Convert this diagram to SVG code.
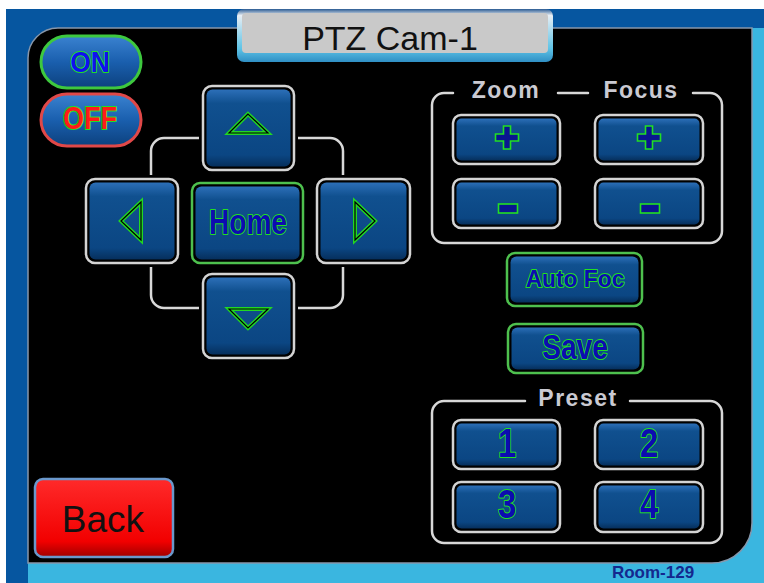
<svg xmlns="http://www.w3.org/2000/svg" width="764" height="583" viewBox="0 0 764 583">
  <defs>
    <linearGradient id="face" x1="0" y1="0" x2="0" y2="1">
      <stop offset="0" stop-color="#2c6fb8"/>
      <stop offset="0.18" stop-color="#10508f"/>
      <stop offset="0.85" stop-color="#0b4683"/>
      <stop offset="1" stop-color="#062f5c"/>
    </linearGradient>
    <linearGradient id="pill" x1="0" y1="0" x2="0" y2="1">
      <stop offset="0" stop-color="#3a82d0"/>
      <stop offset="0.5" stop-color="#1a5fae"/>
      <stop offset="1" stop-color="#0c417e"/>
    </linearGradient>
    <linearGradient id="red" x1="0" y1="0" x2="0" y2="1">
      <stop offset="0" stop-color="#ff2a2a"/>
      <stop offset="0.8" stop-color="#f20000"/>
      <stop offset="1" stop-color="#a00000"/>
    </linearGradient>
    <linearGradient id="title" x1="0" y1="0" x2="0" y2="1">
      <stop offset="0" stop-color="#2a5a92"/>
      <stop offset="0.12" stop-color="#e8eef4"/>
      <stop offset="0.75" stop-color="#5ec3e6"/>
      <stop offset="1" stop-color="#2f8fc4"/>
    </linearGradient>
    <style>
      .rim { fill: #000; stroke: #d4d4d4; stroke-width: 2.5; }
      .face { fill: url(#face); }
      .frame { fill: none; stroke: #d8d8d8; stroke-width: 2.5; stroke-linecap: round; }
      .glyph { fill: #0c0cb0; stroke: #22e022; stroke-width: 2; paint-order: stroke fill; stroke-linejoin: round; font-family: "Liberation Sans", Arial, sans-serif; font-weight: bold; text-anchor: middle; }
      .sym { fill: #0a1690; stroke: #22e022; stroke-width: 1.6; stroke-linejoin: miter; }
      .arrow { fill: none; stroke: #22d822; stroke-width: 4; stroke-linejoin: miter; }
      .arrow-in { fill: none; stroke: #000; stroke-width: 1.2; stroke-linejoin: miter; }
      .label { fill: #cacad2; font-family: "Liberation Sans", Arial, sans-serif; font-weight: bold; font-size: 23px; letter-spacing: 1.5px; text-anchor: middle; }
    </style>
  </defs>

  <!-- screen background -->
  <rect x="0" y="0" width="764" height="583" fill="#ffffff"/>
  <rect x="6" y="9" width="758" height="574" fill="#0656a0"/>
  <rect x="400" y="28" width="364" height="555" fill="#3ab6e0"/>
  <rect x="28" y="400" width="736" height="183" fill="#3ab6e0"/>
  <path d="M58,28 H752 V523 A40,40 0 0 1 712,563 H28 V58 A30,30 0 0 1 58,28 Z" fill="#000" stroke="#8796aa" stroke-width="1.5"/>

  <!-- title plate -->
  <g id="title-plate">
    <rect x="237" y="9" width="316" height="53" rx="7" fill="url(#title)"/>
    <rect x="242" y="13" width="306" height="40" rx="4" fill="#c9c9c9"/>
    <text x="390" y="50" font-family="Liberation Sans, Arial, sans-serif" font-size="34" text-anchor="middle" fill="#111">PTZ Cam-1</text>
  </g>

  <!-- power buttons -->
  <g id="btn-on">
    <rect x="41" y="36" width="100" height="52" rx="26" fill="url(#pill)" stroke="#3ec83e" stroke-width="3"/>
    <text class="glyph" transform="translate(90,72) scale(0.88,1)" x="0" y="0" font-size="30" style="fill:#1010f0">ON</text>
  </g>
  <g id="btn-off">
    <rect x="41" y="94" width="100" height="52" rx="26" fill="url(#pill)" stroke="#e04848" stroke-width="3"/>
    <text class="glyph" transform="translate(90,129) scale(0.87,1)" x="0" y="0" font-size="31" style="fill:#ff1a1a">OFF</text>
  </g>

  <!-- direction pad -->
  <g id="pad-frame">
    <rect class="frame" x="151" y="138" width="192" height="170" rx="13"/>
  </g>
  <g id="btn-up">
    <rect x="199" y="82" width="99" height="92" fill="#000"/>
    <rect class="rim" x="203" y="86" width="91" height="84" rx="9"/>
    <rect class="face" x="206.5" y="89.5" width="84" height="77" rx="6"/>
    <path class="arrow" d="M248,114 L229,133 L268,133 Z"/>
    <path class="arrow-in" d="M248,114 L229,133 L268,133 Z"/>
  </g>
  <g id="btn-left">
    <rect x="82" y="175" width="100" height="92" fill="#000"/>
    <rect class="rim" x="86" y="179" width="92" height="84" rx="9"/>
    <rect class="face" x="89.5" y="182.5" width="85" height="77" rx="6"/>
    <path class="arrow" d="M121,221 L141,202 L141,240 Z"/>
    <path class="arrow-in" d="M121,221 L141,202 L141,240 Z"/>
  </g>
  <g id="btn-home">
    <rect x="192" y="183" width="111" height="80" rx="8" fill="#000" stroke="#4ec04e" stroke-width="2.5"/>
    <rect class="face" x="195.5" y="186.5" width="104" height="73" rx="6"/>
    <text class="glyph" transform="translate(248,234) scale(0.78,1)" x="0" y="0" font-size="36">Home</text>
  </g>
  <g id="btn-right">
    <rect x="313" y="175" width="101" height="92" fill="#000"/>
    <rect class="rim" x="317" y="179" width="93" height="84" rx="9"/>
    <rect class="face" x="320.5" y="182.5" width="86" height="77" rx="6"/>
    <path class="arrow" d="M375,221 L355,202 L355,240 Z"/>
    <path class="arrow-in" d="M375,221 L355,202 L355,240 Z"/>
  </g>
  <g id="btn-down">
    <rect x="199" y="270" width="99" height="92" fill="#000"/>
    <rect class="rim" x="203" y="274" width="91" height="84" rx="9"/>
    <rect class="face" x="206.5" y="277.5" width="84" height="77" rx="6"/>
    <path class="arrow" d="M229,309 L268,309 L248,328 Z"/>
    <path class="arrow-in" d="M229,309 L268,309 L248,328 Z"/>
  </g>

  <!-- zoom / focus group -->
  <g id="zoom-focus-frame">
    <path class="frame" d="M453,93 H444 A12,12 0 0 0 432,105 V231 A12,12 0 0 0 444,243 H710 A12,12 0 0 0 722,231 V105 A12,12 0 0 0 710,93 H693"/>
    <path class="frame" d="M558,93 H588"/>
    <text class="label" x="506" y="98">Zoom</text>
    <text class="label" x="641" y="98">Focus</text>
  </g>
  <g id="btn-zoom-in">
    <rect class="rim" x="453" y="115" width="107" height="49" rx="8"/>
    <rect class="face" x="456.5" y="118.5" width="100" height="42" rx="5"/>
    <path class="sym" d="M503.5,126 h7 v8 h8 v7 h-8 v8 h-7 v-8 h-8 v-7 h8 z"/>
  </g>
  <g id="btn-zoom-out">
    <rect class="rim" x="453" y="179" width="107" height="49" rx="8"/>
    <rect class="face" x="456.5" y="182.5" width="100" height="42" rx="5"/>
    <rect class="sym" x="498.5" y="204" width="19" height="9"/>
  </g>
  <g id="btn-focus-in">
    <rect class="rim" x="595" y="115" width="108" height="49" rx="8"/>
    <rect class="face" x="598.5" y="118.5" width="101" height="42" rx="5"/>
    <path class="sym" d="M645.5,126 h7 v8 h8 v7 h-8 v8 h-7 v-8 h-8 v-7 h8 z"/>
  </g>
  <g id="btn-focus-out">
    <rect class="rim" x="595" y="179" width="108" height="49" rx="8"/>
    <rect class="face" x="598.5" y="182.5" width="101" height="42" rx="5"/>
    <rect class="sym" x="640.5" y="204" width="19" height="9"/>
  </g>

  <!-- auto focus and save -->
  <g id="btn-auto-focus">
    <rect x="507" y="253" width="135" height="53" rx="8" fill="#000" stroke="#4ec04e" stroke-width="2.5"/>
    <rect class="face" x="510.5" y="256.5" width="128" height="46" rx="6"/>
    <text class="glyph" transform="translate(575,287) scale(0.95,1)" x="0" y="0" font-size="24">Auto Foc</text>
  </g>
  <g id="btn-save">
    <rect x="508" y="324" width="135" height="49" rx="8" fill="#000" stroke="#4ec04e" stroke-width="2.5"/>
    <rect class="face" x="511.5" y="327.5" width="128" height="42" rx="6"/>
    <text class="glyph" transform="translate(575,359) scale(0.78,1)" x="0" y="0" font-size="36">Save</text>
  </g>

  <!-- preset group -->
  <g id="preset-frame">
    <path class="frame" d="M525,401 H444 A12,12 0 0 0 432,413 V531 A12,12 0 0 0 444,543 H710 A12,12 0 0 0 722,531 V413 A12,12 0 0 0 710,401 H630"/>
    <text class="label" x="578" y="406">Preset</text>
  </g>
  <g id="btn-preset-1">
    <rect class="rim" x="453" y="420" width="107" height="49" rx="8"/>
    <rect class="face" x="456.5" y="423.5" width="100" height="42" rx="5"/>
    <text class="glyph" transform="translate(507,457) scale(0.8,1)" x="0" y="0" font-size="41">1</text>
  </g>
  <g id="btn-preset-2">
    <rect class="rim" x="595" y="420" width="108" height="49" rx="8"/>
    <rect class="face" x="598.5" y="423.5" width="101" height="42" rx="5"/>
    <text class="glyph" transform="translate(649,457) scale(0.8,1)" x="0" y="0" font-size="41">2</text>
  </g>
  <g id="btn-preset-3">
    <rect class="rim" x="453" y="482" width="107" height="50" rx="8"/>
    <rect class="face" x="456.5" y="485.5" width="100" height="43" rx="5"/>
    <text class="glyph" transform="translate(507,518) scale(0.8,1)" x="0" y="0" font-size="41">3</text>
  </g>
  <g id="btn-preset-4">
    <rect class="rim" x="595" y="482" width="108" height="50" rx="8"/>
    <rect class="face" x="598.5" y="485.5" width="101" height="43" rx="5"/>
    <text class="glyph" transform="translate(649,518) scale(0.8,1)" x="0" y="0" font-size="41">4</text>
  </g>

  <!-- back button -->
  <g id="btn-back">
    <rect x="35" y="479" width="138" height="78" rx="8" fill="url(#red)" stroke="#6a98cc" stroke-width="2.5"/>
    <text x="103" y="532" font-family="Liberation Sans, Arial, sans-serif" font-size="37" text-anchor="middle" fill="#111">Back</text>
  </g>

  <!-- room label -->
  <text id="room-label" x="653" y="578" font-family="Liberation Sans, Arial, sans-serif" font-size="17" font-weight="bold" text-anchor="middle" fill="#14288e">Room-129</text>
</svg>
